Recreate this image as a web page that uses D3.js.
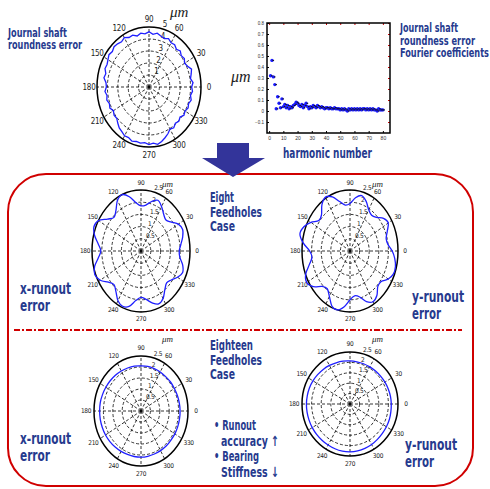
<!DOCTYPE html>
<html>
<head>
<meta charset="utf-8">
<script src="https://cdn.jsdelivr.net/npm/d3@7"></script>
<style>
  body { margin: 0; background: #fff; }
  svg { display: block; }
  .lbl { font-family: "Liberation Sans Narrow", "DejaVu Sans Condensed", sans-serif; fill: #263a8e; }
  .ptxt { font-family: "Liberation Sans Narrow", "DejaVu Sans Condensed", sans-serif; fill: #222; }
  .mu { font-family: "Liberation Serif", "DejaVu Serif", serif; font-style: italic; fill: #222; }
</style>
</head>
<body>
<script>
"use strict";

// angle tick labels of the polar plots
const angleTicks = [0, 30, 60, 90, 120, 150, 180, 210, 240, 270, 300, 330];

// radial rings
const shaftRings = [1, 2, 3, 4, 5];
const runoutRings = [0.5, 1, 1.5, 2, 2.5];

// journal shaft roundness error, um, every 5 deg
const shaftError = [
  4.10, 4.25, 4.05, 4.20, 4.35, 4.10, 3.95, 4.15, 4.05, 4.25, 4.10, 4.30,
  4.25, 4.45, 4.30, 4.40, 4.55, 4.40, 4.60, 4.45, 4.55, 4.40, 4.60, 4.55,
  4.75, 4.60, 4.70, 4.75, 4.60, 4.70, 4.55, 4.45, 4.50, 4.30, 4.40, 4.15,
  4.10, 4.25, 4.10, 4.20, 4.05, 4.15, 3.95, 4.10, 4.05, 4.25, 4.45, 4.55,
  4.70, 4.65, 4.80, 4.70, 4.75, 4.65, 4.80, 4.70, 4.85, 4.70, 4.50, 4.30,
  4.05, 4.15, 3.95, 4.05, 3.90, 4.10, 4.00, 4.15, 4.05, 4.20, 4.05, 4.20
];

// Fourier coefficients of the roundness error, harmonic 1..80
const fourierCoef = [
  0.32, 0.46, 0.31, 0.24, 0.02, 0.13, 0.07, 0.03, 0.11, 0.04,
  0.06, 0.03, 0.05, 0.02, 0.04, 0.03, 0.05, 0.06, 0.08, 0.07,
  0.05, 0.04, 0.06, 0.03, 0.05, 0.07, 0.04, 0.02, 0.04, 0.03,
  0.05, 0.04, 0.03, 0.05, 0.04, 0.03, 0.04, 0.03, 0.02, 0.03,
  0.03, 0.02, 0.03, 0.02, 0.02, 0.03, 0.02, 0.02, 0.02, 0.01,
  0.02, 0.01, 0.02, 0.01, 0.00, 0.02, 0.01, 0.02, 0.01, 0.02,
  0.01, 0.02, 0.01, 0.02, 0.01, 0.02, 0.02, 0.01, 0.02, 0.01,
  0.02, 0.01, 0.02, 0.01, 0.01, 0.00, 0.02, 0.01, 0.01, 0.01
];
const fourierXTicks = [0, 10, 20, 30, 40, 50, 60, 70, 80];
const fourierYTicks = [-0.1, 0, 0.1, 0.2, 0.3, 0.4, 0.5, 0.6, 0.7, 0.8];

// eight feedholes case, um, every 7.5 deg
const eightX = [
  1.95, 2.05, 2.20, 2.30, 2.20, 1.95, 1.80, 1.90, 2.10, 2.25, 2.10, 1.90,
  1.85, 2.00, 2.30, 2.50, 2.40, 2.10, 1.95, 2.15, 2.50, 2.60, 2.45, 2.20,
  2.05, 2.20, 2.45, 2.55, 2.40, 2.10, 1.95, 2.10, 2.35, 2.45, 2.35, 2.05,
  1.90, 2.00, 2.20, 2.35, 2.25, 2.00, 1.85, 1.95, 2.15, 2.30, 2.20, 2.00
];
const eightY = [
  2.20, 2.00, 1.95, 2.10, 2.30, 2.20, 1.95, 1.85, 1.95, 2.20, 2.35, 2.20,
  1.95, 1.90, 2.10, 2.40, 2.55, 2.40, 2.10, 2.05, 2.35, 2.60, 2.70, 2.45,
  2.10, 2.00, 2.20, 2.50, 2.60, 2.40, 2.05, 1.95, 2.15, 2.45, 2.50, 2.30,
  2.00, 1.85, 1.95, 2.25, 2.40, 2.30, 2.05, 2.05, 2.30, 2.45, 2.45, 2.35
];

// eighteen feedholes case, um, every 10 deg
const eighteenX = [
  2.08, 2.07, 2.06, 2.05, 2.05, 2.04, 2.05, 2.05, 2.06, 2.05, 2.07, 2.08,
  2.10, 2.12, 2.14, 2.16, 2.18, 2.20, 2.20, 2.20, 2.19, 2.18, 2.16, 2.14,
  2.12, 2.10, 2.10, 2.10, 2.09, 2.08, 2.08, 2.08, 2.07, 2.08, 2.08, 2.08
];
const eighteenY = [
  2.15, 2.14, 2.12, 2.10, 2.08, 2.07, 2.06, 2.06, 2.06, 2.07, 2.09, 2.11,
  2.14, 2.17, 2.20, 2.23, 2.25, 2.26, 2.27, 2.27, 2.27, 2.27, 2.27, 2.27,
  2.28, 2.29, 2.30, 2.30, 2.29, 2.27, 2.25, 2.22, 2.20, 2.19, 2.18, 2.16
];

const W = 490, H = 489;
const lineBlue = "#1f1fff";
const red = "#d00000";

const svg = d3.select("body").append("svg")
  .attr("width", W)
  .attr("height", H);

// rounded frame and dash-dot divider
svg.append("rect")
  .attr("x", 8).attr("y", 174)
  .attr("width", 465).attr("height", 312)
  .attr("rx", 38).attr("ry", 38)
  .attr("fill", "none")
  .attr("stroke", red)
  .attr("stroke-width", 2);

svg.append("line")
  .attr("x1", 14).attr("x2", 462)
  .attr("y1", 330).attr("y2", 330)
  .attr("stroke", red)
  .attr("stroke-width", 2)
  .attr("stroke-dasharray", "6,2,2,2");

// big down arrow
svg.append("path")
  .attr("d", "M217,143 L249,143 L249,158 L265,158 L233,177 L202,158 L217,158 Z")
  .attr("fill", "#33349a");

function drawPolar(cfg) {
  const g = svg.append("g")
    .attr("transform", "translate(" + cfg.cx + "," + cfg.cy + ")");
  const max = cfg.rings[cfg.rings.length - 1];
  const sx = d3.scaleLinear().domain([0, max]).range([0, cfg.rx]);
  const sy = d3.scaleLinear().domain([0, max]).range([0, cfg.ry]);
  const rad = a => a * Math.PI / 180;

  // dashed rings
  g.selectAll(".ring")
    .data(cfg.rings.slice(0, -1))
    .join("ellipse")
    .attr("rx", d => sx(d))
    .attr("ry", d => sy(d))
    .attr("fill", "none")
    .attr("stroke", "#000")
    .attr("stroke-width", 0.8)
    .attr("stroke-dasharray", "3,2");

  // dashed spokes
  g.selectAll(".spoke")
    .data(angleTicks)
    .join("line")
    .attr("x1", 0).attr("y1", 0)
    .attr("x2", d => sx(max) * Math.cos(rad(d)))
    .attr("y2", d => -sy(max) * Math.sin(rad(d)))
    .attr("stroke", "#000")
    .attr("stroke-width", 0.8)
    .attr("stroke-dasharray", "3,2");

  // outer ring
  g.append("ellipse")
    .attr("rx", sx(max))
    .attr("ry", sy(max))
    .attr("fill", "none")
    .attr("stroke", "#000")
    .attr("stroke-width", 1.5);

  // angle labels
  g.selectAll(".alab")
    .data(angleTicks)
    .join("text")
    .attr("class", "ptxt")
    .attr("x", d => (sx(max) + cfg.pad) * Math.cos(rad(d)))
    .attr("y", d => -(sy(max) + cfg.pad) * Math.sin(rad(d)))
    .attr("text-anchor", "middle")
    .attr("dominant-baseline", "central")
    .attr("font-size", cfg.fs)
    .attr("letter-spacing", -0.3)
    .text(d => d);

  // radial labels
  g.selectAll(".rlab")
    .data(cfg.rings)
    .join("text")
    .attr("class", "ptxt")
    .attr("x", d => sx(d) * Math.cos(rad(78)) + 3)
    .attr("y", d => -sy(d) * Math.sin(rad(78)) - 1)
    .attr("font-size", cfg.fs)
    .attr("letter-spacing", -0.3)
    .text(d => d);

  // measured profile
  const n = cfg.values.length;
  const line = d3.line()
    .x((d, i) => sx(d) * Math.cos(rad(i * 360 / n)))
    .y((d, i) => -sy(d) * Math.sin(rad(i * 360 / n)))
    .curve(cfg.curve);

  g.append("path")
    .datum(cfg.values)
    .attr("d", line)
    .attr("fill", "none")
    .attr("stroke", lineBlue)
    .attr("stroke-width", 1.3);

  // unit
  svg.append("text")
    .attr("class", "mu")
    .attr("x", cfg.cx + cfg.muDx)
    .attr("y", cfg.cy + cfg.muDy)
    .attr("font-size", cfg.muFs)
    .text("\u03bcm");
}

drawPolar({ cx: 149, cy: 87, rx: 52, ry: 60, rings: shaftRings, values: shaftError,
  pad: 8, fs: 8, curve: d3.curveLinearClosed, muDx: 21, muDy: -70, muFs: 15 });
drawPolar({ cx: 141, cy: 251, rx: 49, ry: 61, rings: runoutRings, values: eightX,
  pad: 7, fs: 6.5, curve: d3.curveCardinalClosed, muDx: 21, muDy: -64, muFs: 9 });
drawPolar({ cx: 350, cy: 251, rx: 48, ry: 61, rings: runoutRings, values: eightY,
  pad: 7, fs: 6.5, curve: d3.curveCardinalClosed, muDx: 22, muDy: -64, muFs: 9 });
drawPolar({ cx: 141, cy: 411, rx: 47, ry: 55, rings: runoutRings, values: eighteenX,
  pad: 8, fs: 6.5, curve: d3.curveCardinalClosed, muDx: 21, muDy: -69, muFs: 9 });
drawPolar({ cx: 350, cy: 404, rx: 48, ry: 52, rings: runoutRings, values: eighteenY,
  pad: 8, fs: 6.5, curve: d3.curveCardinalClosed, muDx: 22, muDy: -62, muFs: 9 });

// Fourier coefficient scatter
const fx = d3.scaleLinear().domain([-1.5, 85]).range([267, 390]);
const fy = d3.scaleLinear().domain([-0.2, 0.8]).range([133, 23]);

const fg = svg.append("g");
fg.append("g")
  .attr("transform", "translate(0," + fy(-0.2) + ")")
  .call(d3.axisBottom(fx).tickValues(fourierXTicks).tickSize(-2).tickPadding(3))
  .call(a => a.selectAll("text").attr("font-size", 5).attr("fill", "#333"));
fg.append("g")
  .attr("transform", "translate(" + fx(-1.5) + ",0)")
  .call(d3.axisLeft(fy).tickValues(fourierYTicks).tickSize(-2).tickPadding(3)
    .tickFormat(d3.format("~g")))
  .call(a => a.selectAll("text").attr("font-size", 4.5).attr("fill", "#333"));
fg.append("g")
  .attr("transform", "translate(0," + fy(0.8) + ")")
  .call(d3.axisTop(fx).tickValues(fourierXTicks).tickSize(-2).tickFormat(""))
  .call(a => a.selectAll("line").attr("stroke", red));
fg.append("g")
  .attr("transform", "translate(" + fx(85) + ",0)")
  .call(d3.axisRight(fy).tickValues(fourierYTicks).tickSize(-2).tickFormat(""))
  .call(a => a.selectAll("line").attr("stroke", red));
fg.selectAll(".domain").remove();
fg.append("rect")
  .attr("x", fx(-1.5)).attr("y", fy(0.8))
  .attr("width", fx(85) - fx(-1.5))
  .attr("height", fy(-0.2) - fy(0.8))
  .attr("fill", "none")
  .attr("stroke", "#000")
  .attr("stroke-width", 1.5);

fg.selectAll(".pt")
  .data(fourierCoef)
  .join("circle")
  .attr("cx", (d, i) => fx(i + 1))
  .attr("cy", d => fy(d))
  .attr("r", 1.7)
  .attr("fill", "#1a1aff");
fg.selectAll(".pk")
  .data(fourierCoef)
  .join("rect")
  .attr("x", (d, i) => fx(i + 1) + 0.5)
  .attr("y", d => fy(d) - 0.5)
  .attr("width", 1.6)
  .attr("height", 1)
  .attr("fill", "#111");

svg.append("text")
  .attr("class", "mu")
  .attr("x", 231).attr("y", 82)
  .attr("font-size", 16)
  .text("\u03bcm");

// text labels, each line squeezed to the width it has in the picture
function label(x, y, lines, widths, size, lh) {
  const t = svg.append("text")
    .attr("class", "lbl")
    .attr("x", x).attr("y", y)
    .attr("font-size", size)
    .attr("font-weight", "bold");
  lines.forEach((s, i) => {
    t.append("tspan")
      .attr("x", x)
      .attr("dy", i === 0 ? 0 : lh)
      .attr("textLength", widths[i])
      .attr("lengthAdjust", "spacingAndGlyphs")
      .text(s);
  });
}

label(8, 37, ["Journal shaft", "roundness error"], [59, 74], 12, 11.5);
label(400, 32, ["Journal shaft", "roundness error", "Fourier coefficients"], [58, 75, 89], 11.5, 12.5);
label(283, 158, ["harmonic number"], [89], 14, 0);
label(210, 202, ["Eight", "Feedholes", "Case"], [24, 52, 25], 14, 14.5);
label(210, 350, ["Eighteen", "Feedholes", "Case"], [43, 52, 25], 14, 14.5);
label(20, 294, ["x-runout", "error"], [51, 30], 16, 17);
label(20, 444, ["x-runout", "error"], [51, 30], 16, 17);
label(412, 302, ["y-runout", "error"], [52, 29], 16, 17);
label(405, 450, ["y-runout", "error"], [52, 29], 16, 17);

label(214, 430, ["\u2022 Runout"], [42], 14, 0);
label(221, 446, ["accuracy \u2191"], [58], 14, 0);
label(214, 461, ["\u2022 Bearing"], [45], 14, 0);
label(221, 477, ["Stiffness \u2193"], [58], 14, 0);
</script>
</body>
</html>
